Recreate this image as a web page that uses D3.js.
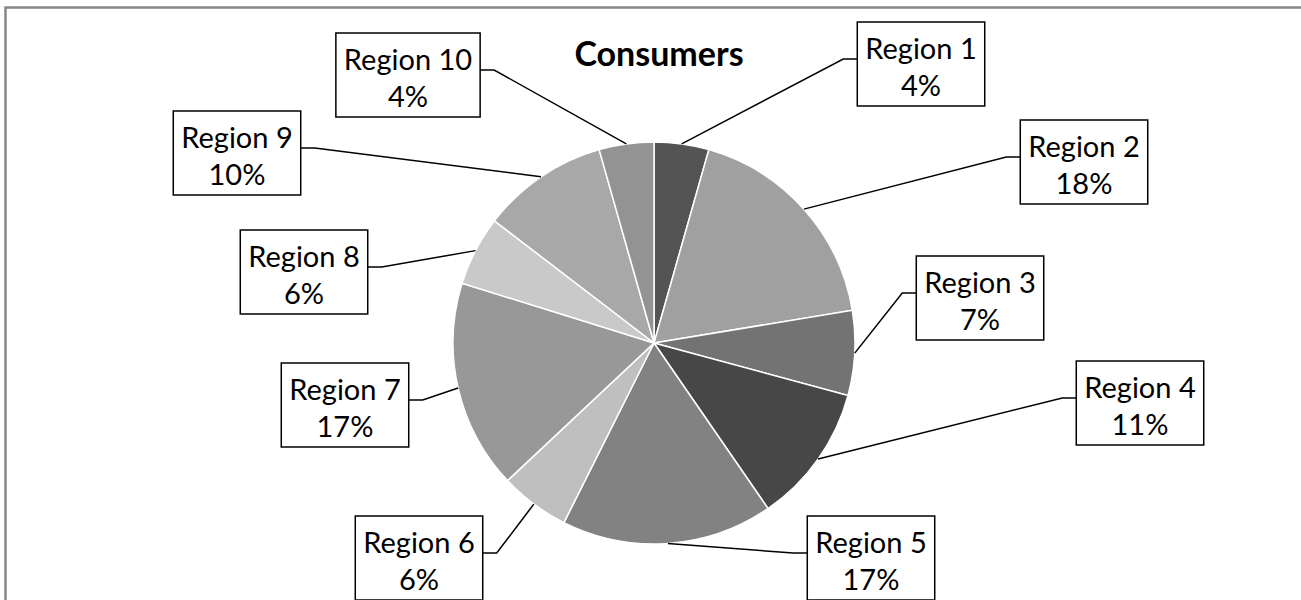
<!DOCTYPE html>
<html><head><meta charset="utf-8">
<script src="https://cdn.jsdelivr.net/npm/d3@7"></script>
<style>html,body{margin:0;padding:0;background:#fff;overflow:hidden}</style>
</head><body>
<svg id="chart" width="1301" height="600"></svg>
<script>
// ---- data ----
const categories = ["Region 1","Region 2","Region 3","Region 4","Region 5","Region 6","Region 7","Region 8","Region 9","Region 10"];
const values = [4.4, 18.0, 6.8, 11.2, 17.0, 5.6, 16.8, 5.6, 10.2, 4.4];
const colors = ["#545454","#a0a0a0","#737373","#474747","#828282","#bfbfbf","#989898","#c9c9c9","#a8a8a8","#939393"];
const title = "Consumers";

// ---- layout (label box centres, pixels) ----
const labelCenters = [[921,64],[1084,162],[980,298],[1140,403],[871,558],[419,558],[345,405],[304,272],[237,153],[408,75]];

const svg = d3.select("#chart");
const cx = 654, cy = 343, r = 201;
const font = "Lato, 'Open Sans', sans-serif";

// frame
svg.append("rect").attr("x",5.5).attr("y",7.5).attr("width",1400).attr("height",700)
  .attr("fill","#fff").attr("stroke","#878787").attr("stroke-width",2.5);

const total = d3.sum(values);
const pie = d3.pie().sort(null).value(d => d)(values);
const arc = d3.arc().innerRadius(0).outerRadius(r);
const g = svg.append("g").attr("transform",`translate(${cx},${cy})`);
g.selectAll("path").data(pie).join("path")
  .attr("d",arc).attr("fill",(d,i)=>colors[i]).attr("stroke","#fff").attr("stroke-width",1.5);

// title
svg.append("text").attr("x",659).attr("y",66).attr("text-anchor","middle")
  .attr("font-family",font).attr("font-weight","bold").attr("font-size",34).text(title);

const fmt = d3.format(".0%");
pie.forEach((d,i)=>{
  const [lx,ly] = labelCenters[i];
  const lg = svg.append("g");
  const t1 = lg.append("text").attr("x",lx).attr("y",ly-5).attr("text-anchor","middle")
    .attr("font-family",font).attr("font-size",29).text(categories[i]);
  const t2 = lg.append("text").attr("x",lx).attr("y",ly+32).attr("text-anchor","middle")
    .attr("font-family",font).attr("font-size",29).text(fmt(values[i]/total));
  const w = Math.max(t1.node().getComputedTextLength(), t2.node().getComputedTextLength()) + 16;
  const h = 84;
  lg.insert("rect","text").attr("x",lx-w/2).attr("y",ly-h/2).attr("width",w).attr("height",h)
    .attr("fill","#fff").attr("stroke","#000").attr("stroke-width",1.5);
  // leader
  const mid = (d.startAngle+d.endAngle)/2;
  const px = cx + r*Math.sin(mid), py = cy - r*Math.cos(mid);
  const leftSide = lx > cx;
  const bx = leftSide ? lx - w/2 : lx + w/2;
  const sx = leftSide ? bx - 14 : bx + 14;
  svg.append("polyline").attr("points",`${bx},${ly-5} ${sx},${ly-5} ${px},${py}`)
    .attr("fill","none").attr("stroke","#000").attr("stroke-width",1.5);
});
</script>
</body></html>
